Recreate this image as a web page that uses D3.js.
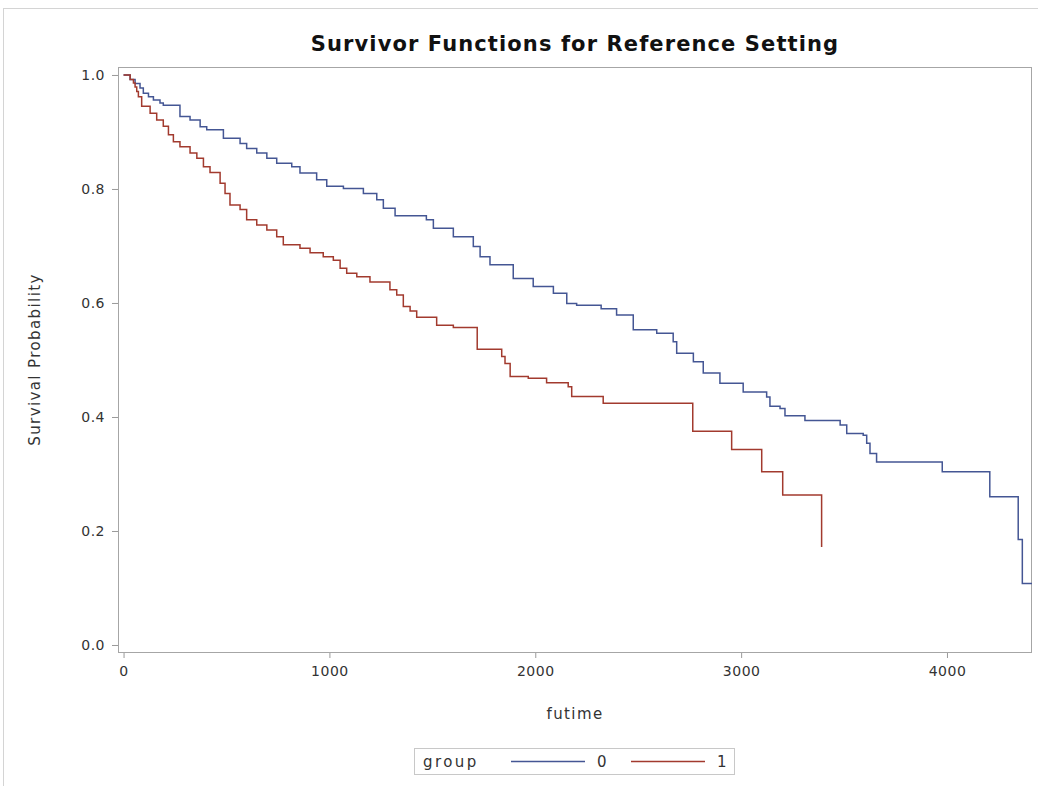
<!DOCTYPE html>
<html>
<head>
<meta charset="utf-8">
<script src="https://cdn.jsdelivr.net/npm/d3@7"></script>
<style>
  body { margin: 0; background: #fff; }
  svg { display: block; }
  text { font-family: "DejaVu Sans", sans-serif; fill: #333; }
</style>
</head>
<body>
<svg id="chart" width="1038" height="786"></svg>
<script>
// Kaplan-Meier step points [futime, survival]
let group0 = [
  [0, 1.0], [32, 0.992], [56, 0.985], [80, 0.977], [96, 0.968], [121, 0.962],
  [145, 0.956], [177, 0.951], [193, 0.947], [274, 0.927], [323, 0.921], [372, 0.909],
  [404, 0.904], [485, 0.889], [566, 0.880], [598, 0.871], [647, 0.863], [696, 0.854],
  [744, 0.845], [817, 0.839], [857, 0.828], [938, 0.816], [987, 0.805], [1068, 0.801],
  [1165, 0.792], [1230, 0.781], [1262, 0.766], [1319, 0.753], [1471, 0.746], [1505, 0.731],
  [1602, 0.716], [1699, 0.699], [1732, 0.681], [1780, 0.667], [1893, 0.643], [1990, 0.629],
  [2088, 0.617], [2153, 0.599], [2201, 0.596], [2320, 0.590], [2395, 0.579], [2476, 0.553],
  [2590, 0.547], [2670, 0.532], [2687, 0.512], [2768, 0.497], [2816, 0.477], [2897, 0.459],
  [3010, 0.444], [3124, 0.435], [3140, 0.419], [3189, 0.415], [3213, 0.402], [3310, 0.394],
  [3481, 0.386], [3513, 0.371], [3593, 0.368], [3610, 0.354], [3626, 0.336], [3658, 0.321],
  [3977, 0.304], [4208, 0.260], [4346, 0.185], [4366, 0.108], [4413, 0.108]
];
let group1 = [
  [0, 1.0], [32, 0.992], [48, 0.986], [56, 0.979], [64, 0.971], [72, 0.962],
  [88, 0.945], [129, 0.933], [161, 0.921], [193, 0.910], [218, 0.895], [242, 0.883],
  [274, 0.874], [323, 0.863], [356, 0.854], [388, 0.839], [420, 0.829], [469, 0.810],
  [493, 0.792], [517, 0.772], [566, 0.764], [598, 0.746], [647, 0.737], [696, 0.728],
  [744, 0.716], [776, 0.702], [857, 0.696], [906, 0.688], [970, 0.681], [1019, 0.675],
  [1052, 0.661], [1084, 0.652], [1133, 0.646], [1197, 0.637], [1294, 0.623], [1327, 0.614],
  [1359, 0.594], [1392, 0.586], [1424, 0.575], [1521, 0.561], [1602, 0.557], [1718, 0.519],
  [1837, 0.506], [1853, 0.494], [1878, 0.471], [1966, 0.468], [2055, 0.460], [2160, 0.453],
  [2177, 0.436], [2330, 0.424], [2765, 0.375], [2954, 0.343], [3100, 0.304], [3202, 0.263],
  [3391, 0.172]
];
let groups = ["0", "1"];
let colors = ["#445694", "#a23a2e"];
let xTicks = [0, 1000, 2000, 3000, 4000];
let yTicks = [0, 0.2, 0.4, 0.6, 0.8, 1.0];

let margins = { top: 67, right: 6, bottom: 134, left: 118 };
let width = 1038 - margins.left - margins.right;
let height = 786 - margins.top - margins.bottom;

let xScale = d3.scaleLinear().domain([-27, 4413]).range([0, width]);
let yScale = d3.scaleLinear().domain([-0.0123, 1.014]).range([height, 0]);

let svg = d3.select("#chart");

// outer border of the image
svg.append("rect")
  .attr("x", 3.5).attr("y", 8.5)
  .attr("width", 1040).attr("height", 790)
  .style("fill", "none").style("stroke", "#d4d4d4");

svg.append("text")
  .attr("x", margins.left + width / 2).attr("y", 51)
  .attr("text-anchor", "middle")
  .style("font-weight", "bold").style("font-size", "21px").style("fill", "#111")
  .style("letter-spacing", "1.1px")
  .text("Survivor Functions for Reference Setting");

let graph = svg.append("g")
  .attr("transform", "translate(" + margins.left + "," + margins.top + ")");

let xAxis = d3.axisBottom(xScale).tickValues(xTicks).tickFormat(d3.format("d")).tickSize(6).tickPadding(8);
let yAxis = d3.axisLeft(yScale).tickValues(yTicks).tickFormat(d3.format(".1f")).tickSize(6).tickPadding(7);

graph.append("g")
  .attr("class", "x axis")
  .attr("transform", "translate(0," + height + ")")
  .call(xAxis);
graph.append("g")
  .attr("class", "y axis")
  .call(yAxis);
graph.selectAll(".axis .domain").remove();
graph.selectAll(".axis line").style("stroke", "#9a9a9a");
graph.selectAll(".axis text").style("font-size", "14px").style("fill", "#333")
  .style("letter-spacing", "0.5px");

// plot frame
graph.append("rect")
  .attr("x", 0.5).attr("y", 0.5)
  .attr("width", width - 1).attr("height", height)
  .style("fill", "none").style("stroke", "#a6a6a6");

let line = d3.line()
  .x(function(d) { return xScale(d[0]); })
  .y(function(d) { return yScale(d[1]); })
  .curve(d3.curveStepAfter);

[group0, group1].forEach(function(data, i) {
  graph.append("path")
    .attr("d", line(data))
    .style("fill", "none")
    .style("stroke", colors[i])
    .style("stroke-width", 1.5);
});

// axis labels
svg.append("text")
  .attr("transform", "translate(40," + (margins.top + height / 2) + ") rotate(-90)")
  .attr("text-anchor", "middle")
  .style("font-size", "15px").style("letter-spacing", "1.4px")
  .text("Survival Probability");
svg.append("text")
  .attr("x", margins.left + width / 2).attr("y", 719)
  .attr("text-anchor", "middle")
  .style("font-size", "15px").style("letter-spacing", "1.4px")
  .text("futime");

// legend
let legend = svg.append("g").attr("transform", "translate(414,748)");
legend.append("rect")
  .attr("x", 0.5).attr("y", 0.5).attr("width", 320).attr("height", 26)
  .style("fill", "none").style("stroke", "#c8c8c8");
legend.append("text").attr("x", 9).attr("y", 18.5)
  .style("font-size", "15px").style("letter-spacing", "2.4px").text("group");
let legendX = [97, 217];
groups.forEach(function(g, i) {
  legend.append("line")
    .attr("x1", legendX[i]).attr("x2", legendX[i] + 74)
    .attr("y1", 13.5).attr("y2", 13.5)
    .style("stroke", colors[i]).style("stroke-width", 1.3);
  legend.append("text")
    .attr("x", legendX[i] + 86).attr("y", 18.5)
    .style("font-size", "15px")
    .text(g);
});
</script>
</body>
</html>
